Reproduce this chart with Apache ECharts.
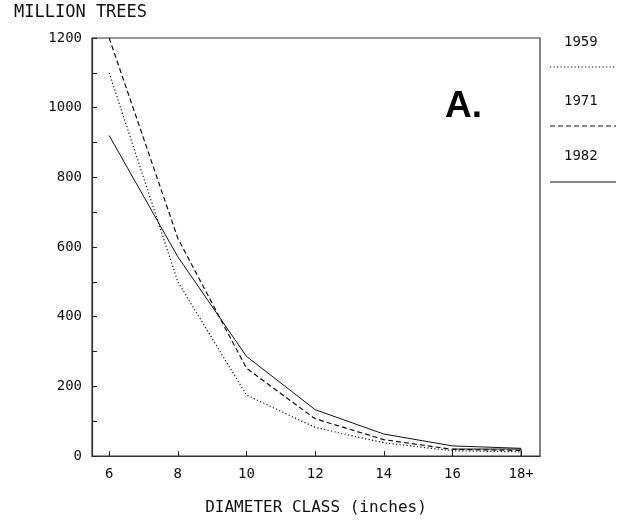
<!DOCTYPE html>
<html>
<head>
<meta charset="utf-8">
<script src="https://cdn.jsdelivr.net/npm/echarts@6/dist/echarts.min.js"></script>
<style>html,body{margin:0;padding:0;background:#fff}#c{width:620px;height:521px}</style>
</head>
<body>
<div id="c"></div>
<script>
var diameterClasses = [6, 8, 10, 12, 14, 16, 18];
var xTickLabels = ['6', '8', '10', '12', '14', '16', '18+'];
var yTickLabels = [0, 200, 400, 600, 800, 1000, 1200];
var trees1959 = [1100, 500, 175, 82, 38, 15, 12];
var trees1971 = [1200, 625, 252, 107, 47, 19, 16];
var trees1982 = [920, 572, 286, 133, 63, 29, 22];
var boxX = [16, 16, 18, 18];
var boxY = [0, 20, 20, 0];
var legendNames = ['1959', '1971', '1982'];

var FONT = 'DejaVu Sans Mono';
function pairs(xs, ys) { return xs.map(function (x, i) { return [x, ys[i]]; }); }

var chart = echarts.init(document.getElementById('c'), null, {renderer: 'canvas'});
var styles = [
  {type: [1.2, 2.3], width: 1.2},
  {type: [5, 3], width: 1.2},
  {type: 'solid', width: 1}
];
var seriesData = [trees1959, trees1971, trees1982];

var series = seriesData.map(function (d, i) {
  return {
    name: legendNames[i], type: 'line', data: pairs(diameterClasses, d),
    symbol: 'none', silent: true, animation: false,
    lineStyle: {color: '#111', width: styles[i].width, type: styles[i].type}
  };
});
series.push({
  name: 'box', type: 'line', data: pairs(boxX, boxY), symbol: 'none', silent: true, animation: false,
  lineStyle: {color: '#111', width: 1}
});

var graphics = [];
var legendTextY = [43, 102, 157];
var legendLineY = [67, 126, 182];
legendNames.forEach(function (n, i) {
  graphics.push({type: 'text', left: 564, top: legendTextY[i] - 8,
    style: {text: n, font: '14px "' + FONT + '"', fill: '#111'}});
  graphics.push({type: 'line', shape: {x1: 550, y1: legendLineY[i], x2: 616, y2: legendLineY[i]},
    style: {stroke: '#111', lineWidth: styles[i].width, lineDash: styles[i].type === 'solid' ? null : styles[i].type}});
});
graphics.push({type: 'text', left: 14, top: 4,
  style: {text: 'MILLION TREES', font: '17px "' + FONT + '"', fill: '#111'}});
graphics.push({type: 'text', left: 445, top: 88,
  style: {text: 'A.', font: 'bold 37px "Liberation Sans"', fill: '#000'}});

chart.setOption({
  animation: false,
  grid: {left: 92, right: 80, top: 38, bottom: 57, show: true, borderColor: '#333', borderWidth: 1.2, backgroundColor: 'transparent'},
  xAxis: {
    type: 'value', min: 5.5, max: 18.55,
    name: 'DIAMETER CLASS (inches)', nameLocation: 'middle', nameGap: 44,
    nameTextStyle: {fontFamily: FONT, fontSize: 16, color: '#111'},
    axisLine: {show: true, lineStyle: {color: '#333', width: 1.2}},
    axisTick: {show: true, inside: true, length: 5, customValues: diameterClasses, lineStyle: {color: '#222'}},
    axisLabel: {customValues: diameterClasses, margin: 11, fontFamily: FONT, fontSize: 14, color: '#111',
      formatter: function (v) { var i = diameterClasses.indexOf(v); return i >= 0 ? xTickLabels[i] : ''; }},
    splitLine: {show: false}
  },
  yAxis: {
    type: 'value', min: 0, max: 1200, interval: 100,
    axisLine: {show: true, lineStyle: {color: '#333', width: 1.2}},
    axisTick: {show: true, inside: true, length: 5, lineStyle: {color: '#222'}},
    axisLabel: {margin: 10, fontFamily: FONT, fontSize: 14, color: '#111',
      formatter: function (v) { return yTickLabels.indexOf(v) >= 0 ? String(v) : ''; }},
    splitLine: {show: false}
  },
  series: series,
  graphic: graphics
});
</script>
</body>
</html>
